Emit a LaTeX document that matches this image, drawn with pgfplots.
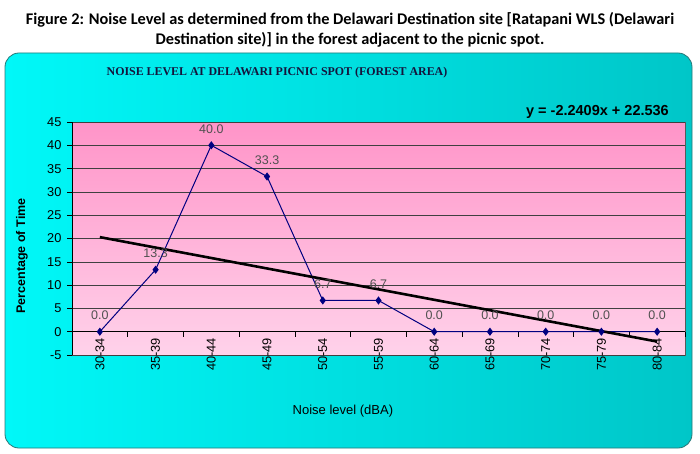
\documentclass[border=0pt]{standalone}
\usepackage{pgfplots}
\pgfplotsset{compat=1.18}
\usepackage{fontspec}
\setmainfont{Liberation Sans}
\newfontfamily\capfont{Carlito}
\newfontfamily\titlefont{Liberation Serif}
\definecolor{cyanL}{RGB}{0,248,248}
\definecolor{cyanR}{RGB}{0,198,200}
\definecolor{boxedge}{RGB}{40,120,120}
\definecolor{pinkT}{RGB}{255,148,200}
\definecolor{pinkB}{RGB}{255,210,234}
\definecolor{navy}{RGB}{0,0,128}
\definecolor{lblgray}{RGB}{80,80,80}
\definecolor{titlecol}{RGB}{20,20,60}
\begin{document}
\begin{tikzpicture}
\path[use as bounding box] (0pt,0pt) rectangle (700pt,-454pt);
\fill[white] (0pt,0pt) rectangle (700pt,-454pt);
\node[font=\capfont\bfseries\fontsize{16.3}{20.5}\selectfont, align=center, inner sep=0] at (350pt,-30pt)
  {Figure 2: Noise Level as determined from the Delawari Destination site [Ratapani WLS (Delawari\\Destination site)] in the forest adjacent to the picnic spot.};
\shadedraw[left color=cyanL, right color=cyanR, draw=boxedge, line width=0.8pt, rounded corners=14pt] (5pt,-53pt) rectangle (692pt,-448pt);
\node[font=\titlefont\bfseries\fontsize{11.9}{13}\selectfont, text=titlecol, inner sep=0] at (277pt,-73pt)
  {NOISE LEVEL AT DELAWARI PICNIC SPOT (FOREST AREA)};
\node[font=\bfseries\fontsize{14.5}{16}\selectfont, anchor=east, inner sep=0] at (669pt,-112pt)
  {y = -2.2409x + 22.536};
\begin{axis}[
  at={(72pt,-355pt)}, anchor=south west, scale only axis,
  width=613pt, height=233pt,
  xmin=-0.5, xmax=10.5, ymin=-5, ymax=45,
  axis x line*=middle, axis y line*=left,
  axis line style={black, line width=0.8pt},
  axis background/.style={top color=pinkT, bottom color=pinkB, draw=gray!70!black, line width=0.6pt},
  xtick={-0.5,0.5,1.5,2.5,3.5,4.5,5.5,6.5,7.5,8.5,9.5,10.5},
  xticklabel={\mbox{}},
  extra x ticks={0,1,2,3,4,5,6,7,8,9,10},
  extra x tick labels={30-34,35-39,40-44,45-49,50-54,55-59,60-64,65-69,70-74,75-79,80-84},
  extra x tick style={major tick length=0pt, xticklabel style={rotate=90, anchor=east, xshift=-3pt}},
  ytick={-5,0,5,10,15,20,25,30,35,40,45},
  yticklabels={-5,0,5,10,15,20,25,30,35,40,45},
  tick align=outside, xtick align=outside, ytick align=outside, major tick length=5pt,
  tick style={black, line width=0.6pt},
  tick label style={font=\fontsize{12.8}{14}\selectfont},
  yticklabel style={xshift=-2pt},
  ymajorgrids, major grid style={draw=black!75, line width=0.6pt},
  xlabel={Noise level (dBA)},
  xlabel style={at={(rel axis cs:0.442,-0.24)}, anchor=center, font=\fontsize{13}{15}\selectfont},
  ylabel={Percentage of Time},
  ylabel style={at={(rel axis cs:-0.0816,0.425)}, anchor=center, font=\bfseries\fontsize{12.5}{14}\selectfont},
  clip=false,
]
\addplot[navy, line width=1pt, mark=diamond*, mark size=3.3pt, mark options={fill=navy, solid},
  nodes near coords, point meta=explicit symbolic,
  every node near coord/.append style={font=\fontsize{12.5}{14}\selectfont, text=lblgray, anchor=south, yshift=8pt}]
coordinates {(0,0)[0.0] (1,13.3)[13.3] (2,40.0)[40.0] (3,33.3)[33.3] (4,6.7)[6.7] (5,6.7)[6.7]
  (6,0)[0.0] (7,0)[0.0] (8,0)[0.0] (9,0)[0.0] (10,0)[0.0]};
\addplot[black, line width=2.6pt, no marks] coordinates {(0,20.2951) (10,-2.1139)};
\end{axis}
\end{tikzpicture}
\end{document}
